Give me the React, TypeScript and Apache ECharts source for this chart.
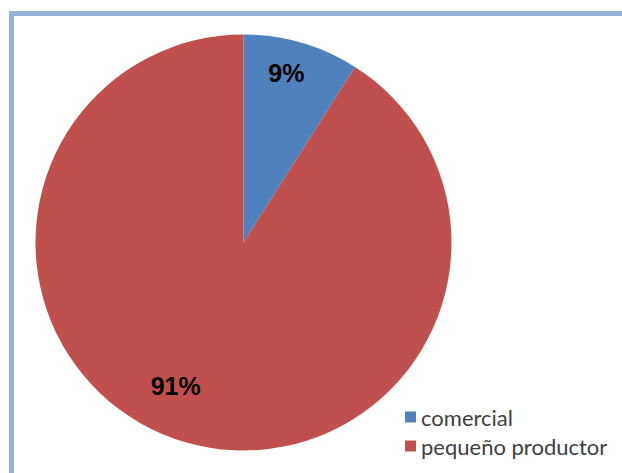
import React, { useEffect, useRef } from "react";
import * as echarts from "echarts";

const categories = ["comercial", "pequeño productor"];
const values = [9, 91];
const colors = ["#4F81BD", "#C0504D"];
const labelShifts = [
  [13, -67],
  [-38, 41],
];

export default function App() {
  const ref = useRef<HTMLDivElement>(null);
  useEffect(() => {
    document.body.style.margin = "0";
    const chart = echarts.init(ref.current!, undefined, { renderer: "svg" });
    chart.setOption({
      animation: false,
      backgroundColor: "#ffffff",
      graphic: [
        {
          type: "rect",
          shape: { x: 11.5, y: 13.5, width: 640, height: 500 },
          style: { fill: "none", stroke: "#95B3D7", lineWidth: 5 },
          silent: true,
        },
      ],
      legend: {
        orient: "vertical",
        left: 400,
        top: 401,
        icon: "rect",
        itemWidth: 11,
        itemHeight: 11,
        itemGap: 7,
        data: categories,
        textStyle: {
          fontFamily: "Lato",
          fontSize: 22,
          color: "#404040",
          padding: [0, 0, 0, 0],
        },
      },
      series: [
        {
          type: "pie",
          center: [243.5, 242.5],
          radius: [0, 208],
          startAngle: 90,
          clockwise: true,
          label: {
            show: true,
            position: "inside",
            formatter: (p: any) => `${p.value}%`,
            fontFamily: "Liberation Sans, Arial",
            fontSize: 25,
            fontWeight: "bold",
            color: "#000000",
          },
          labelLine: { show: false },
          labelLayout: (p: any) => ({
            dx: labelShifts[p.dataIndex][0],
            dy: labelShifts[p.dataIndex][1],
          }),
          emphasis: { disabled: true },
          itemStyle: { borderWidth: 0 },
          data: categories.map((name, i) => ({
            name,
            value: values[i],
            itemStyle: { color: colors[i] },
          })),
        },
      ],
    });
    return () => chart.dispose();
  }, []);
  return <div ref={ref} style={{ width: 622, height: 473 }} />;
}
